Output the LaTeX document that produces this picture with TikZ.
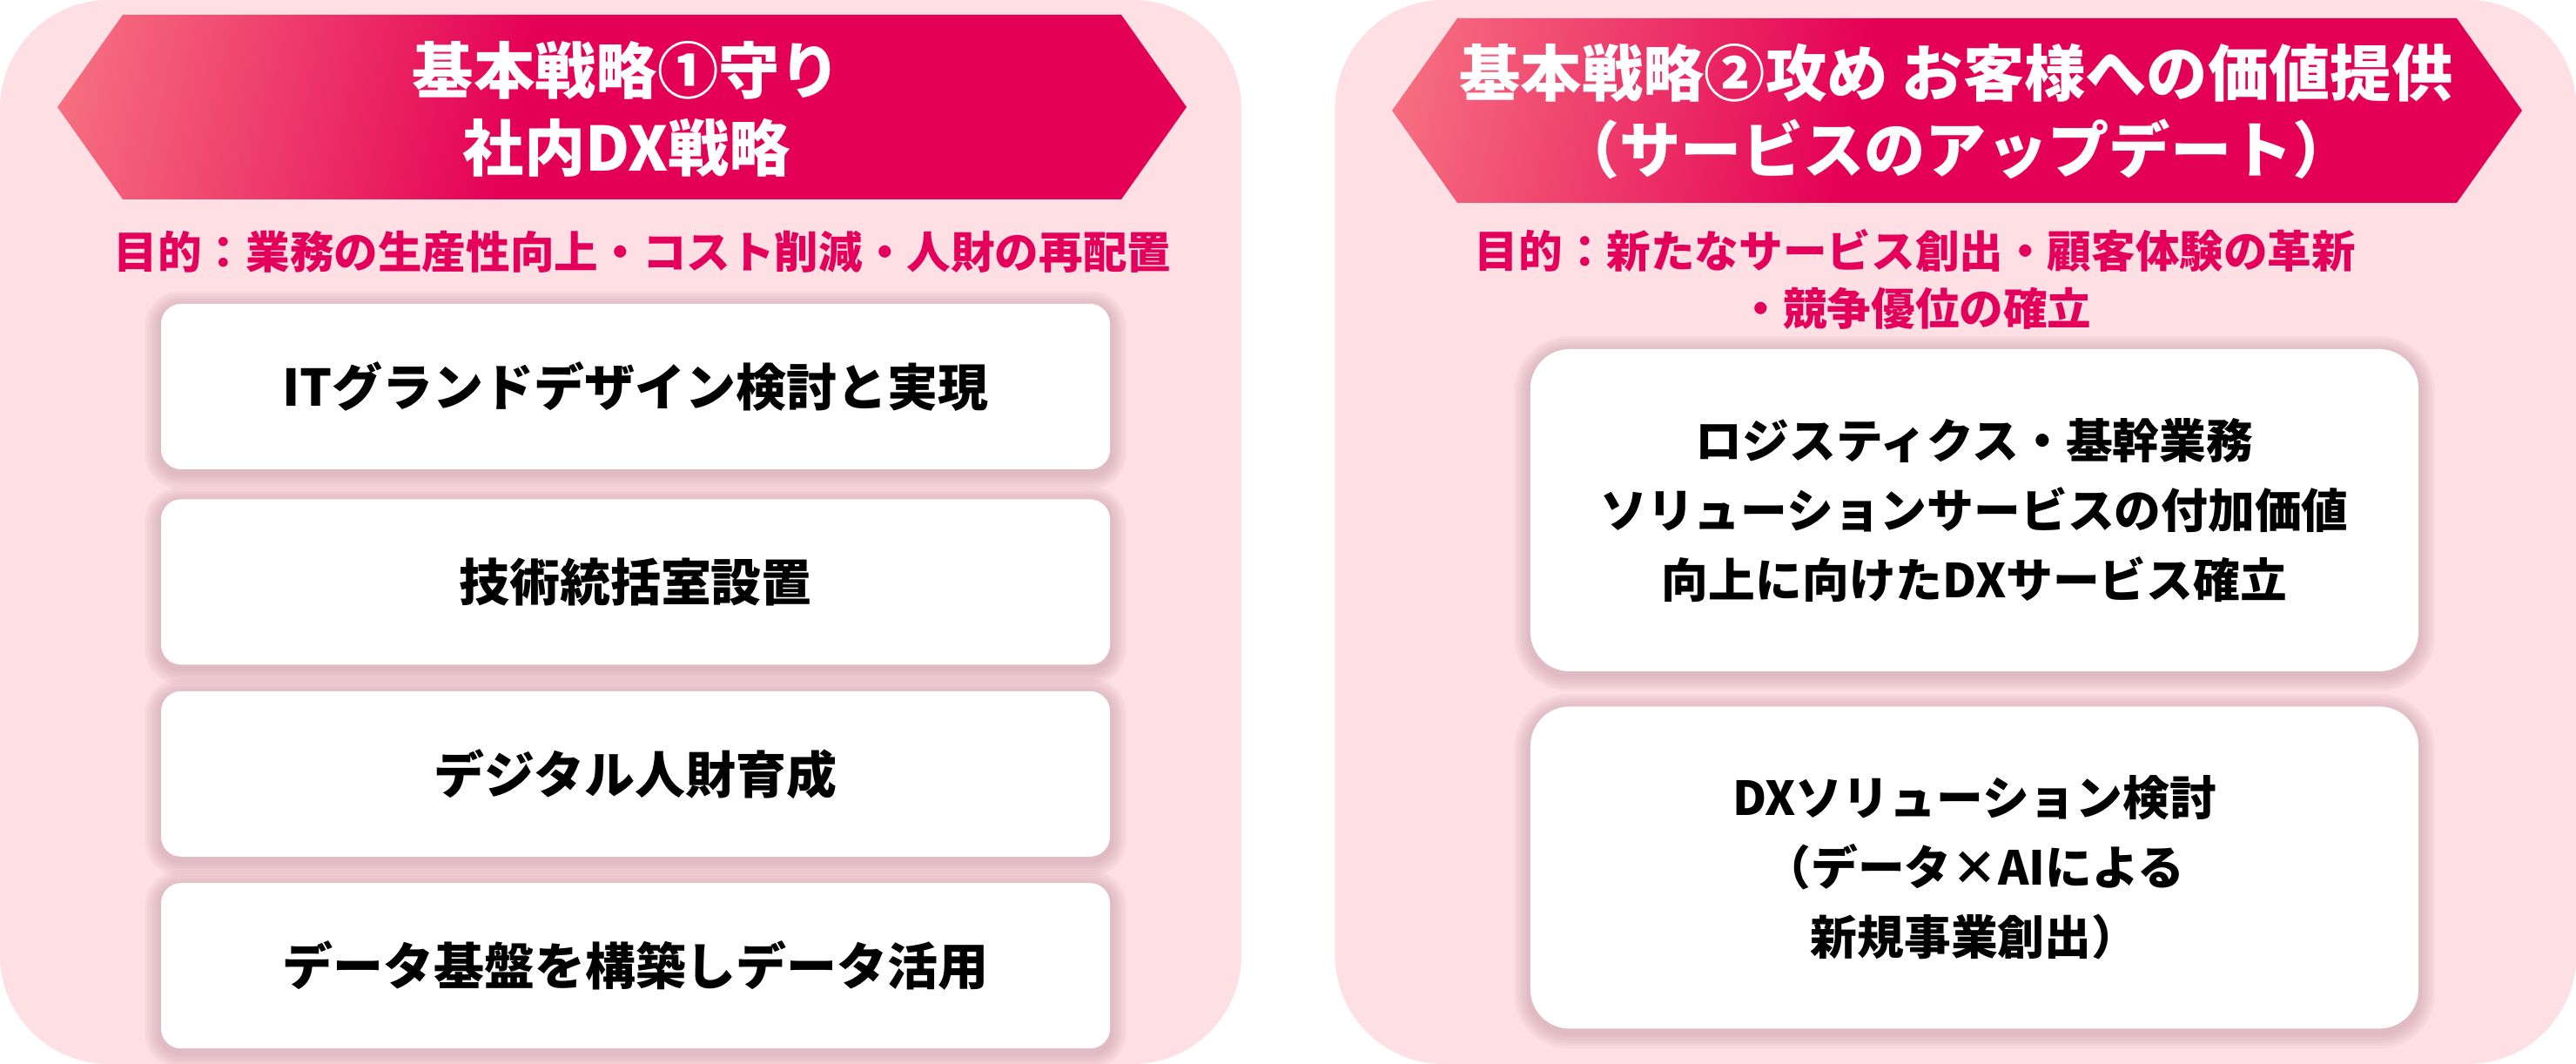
\documentclass[tikz,border=0pt]{standalone}
\usepackage{fontspec}
\setmainfont{Noto Sans CJK JP}
\usepackage{tikz}
\usetikzlibrary{positioning,backgrounds,calc}
\usepackage{xcolor}
\definecolor{PanelPink}{RGB}{253,223,228}
\definecolor{BannerRed}{RGB}{228,0,85}
\definecolor{BannerLight}{RGB}{246,112,128}
\definecolor{AimRed}{RGB}{228,0,90}
\definecolor{ShadowPink}{RGB}{185,135,148}
\pgfdeclarehorizontalshading{bannershade}{100bp}{color(0bp)=(BannerLight); color(21bp)=(BannerLight); color(45bp)=(BannerRed); color(100bp)=(BannerRed)}
\pgfdeclarelayer{panel}
\pgfsetlayers{panel,background,main}
\newcommand{\cardshadow}[2]{%
  \begin{scope}[on background layer]
  \foreach \s in {1,...,6}{
    \pgfmathsetmacro{\rr}{#2+\s*0.03}
    \fill[ShadowPink,fill opacity=0.08,rounded corners=\rr cm]
      ($(#1.south west)+(-\s*0.03,-\s*0.03-0.04)$) rectangle ($(#1.north east)+(\s*0.03,\s*0.03-0.04)$);
  }
  \end{scope}}

\begin{document}
\begin{tikzpicture}[
  panel/.style={fill=PanelPink,rounded corners=1.25cm,minimum width=14.26cm,
                minimum height=12.22cm,inner sep=0pt},
  banner/.style={shading=bannershade,shading angle=-12},
  title/.style={text=white,align=center,font=\fontsize{20}{25.3}\selectfont\bfseries,inner sep=0pt},
  aim/.style={text=AimRed,align=center,font=\fontsize{14.4}{18.8}\selectfont\bfseries,inner sep=0pt},
  card/.style={fill=white,rounded corners=0.23cm,minimum width=10.9cm,minimum height=1.9cm,
               align=center,font=\fontsize{16.5}{20}\selectfont\bfseries,inner sep=0pt},
  bigcard/.style={card,rounded corners=0.45cm,minimum width=10.2cm,minimum height=3.7cm,
                  font=\fontsize{15.3}{22.8}\selectfont\bfseries},
]
\useasboundingbox (0,0) rectangle (29.59,12.22);
\begin{pgfonlayer}{panel}
\node[panel] (leftpanel) at (7.13,6.11) {};
\node[panel] (rightpanel) at (22.465,6.11) {};
\end{pgfonlayer}
\shade[banner] (0.66,10.99) -- (1.41,12.05) -- (12.88,12.05) -- (13.63,10.99)
  -- (12.88,9.93) -- (1.41,9.93) -- cycle;
\shade[banner] (15.99,10.95) -- (16.74,12.01) -- (28.22,12.01) -- (28.97,10.95)
  -- (28.22,9.89) -- (16.74,9.89) -- cycle;
\node[title] (lefttitle) at (7.2,10.97) {基本戦略①守り\\社内DX戦略};
\node[title] (righttitle) at (22.47,10.94) {基本戦略②攻め お客様への価値提供\\（サービスのアップデート）};
\node[aim] (leftaim) at (7.38,9.33) {目的：業務の生産性向上・コスト削減・人財の再配置};
\node[aim] (rightaim) at (22.0,9.01) {目的：新たなサービス創出・顧客体験の革新\\・競争優位の確立};
\node[card] (itplan) at (7.30,7.78) {ITグランドデザイン検討と実現};
\node[card,below=0.33cm of itplan] (techroom) {技術統括室設置};
\node[card,below=0.29cm of techroom] (talent) {デジタル人財育成};
\node[card,below=0.29cm of talent] (dataplat) {データ基盤を構築しデータ活用};
\node[bigcard] (logistics) at (22.68,6.36) {ロジスティクス・基幹業務\\ソリューションサービスの付加価値\\向上に向けたDXサービス確立};
\node[bigcard,below=0.39cm of logistics] (dxsol) {DXソリューション検討\\（データ×AIによる\\新規事業創出）};
\foreach \c in {itplan,techroom,talent,dataplat}
  \cardshadow{\c}{0.23};
\foreach \c in {logistics,dxsol}
  \cardshadow{\c}{0.45};
\end{tikzpicture}
\end{document}
